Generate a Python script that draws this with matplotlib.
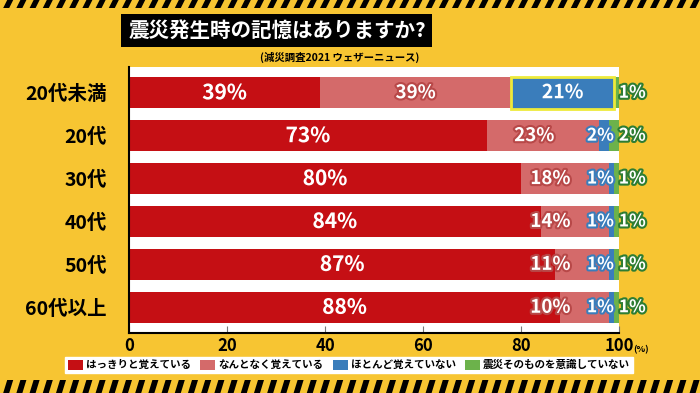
import matplotlib
matplotlib.use('Agg')
import matplotlib.pyplot as plt
import matplotlib.patheffects as pe
from matplotlib.patches import Polygon, Rectangle, Patch

plt.rcParams['font.family'] = ['Noto Sans CJK JP', 'DejaVu Sans']
plt.rcParams['font.weight'] = 'bold'

# data
groups = ['20代未満', '20代', '30代', '40代', '50代', '60代以上']
clear = [39, 73, 80, 84, 87, 88]
vague = [39, 23, 18, 14, 11, 10]
hardly = [21, 2, 1, 1, 1, 1]
none_ = [1, 2, 1, 1, 1, 1]
series_names = ['はっきりと覚えている', 'なんとなく覚えている', 'ほとんど覚えていない', '震災そのものを意識していない']
colors = ['#C50F14', '#D46A6A', '#3A7DBB', '#6CB24B']
ticks = [0, 20, 40, 60, 80, 100]

bg = '#F7C532'
fig = plt.figure(figsize=(7, 3.93), dpi=100, facecolor=bg)

# hazard stripes top and bottom
W, H = 700, 393
def stripes(y0, y1):
    x = -10
    while x < W + 10:
        pts = [(x + 4, y0), (x + 10, y0), (x + 6, y1), (x, y1)]
        fig.add_artist(Polygon([(px / W, 1 - py / H) for px, py in pts],
                               closed=True, color='black', lw=0))
        x += 13.2
stripes(0, 8)
stripes(380, 393)

ax = fig.add_axes([129 / W, 1 - 333 / H, 490 / W, 266 / H])
ax.set_facecolor('white')

y = range(len(groups))
left = [0] * len(groups)
for vals, col in zip([clear, vague, hardly, none_], colors):
    ax.barh(y, vals, left=left, height=0.72, color=col, zorder=2)
    left = [l + v for l, v in zip(left, vals)]

# yellow glow around first-row blue segment
ax.barh(0, hardly[0], left=clear[0] + vague[0], height=0.74, color=colors[2],
        edgecolor='#EEEA3A', lw=2, zorder=3)

ax.set_xlim(0, 100)
ax.set_ylim(5.6, -0.6)
ax.set_yticks(list(y))
ax.set_yticklabels(groups, fontsize=14, fontweight='bold')
ax.set_xticks(ticks)
ax.set_xticklabels([str(t) for t in ticks], fontsize=12, fontweight='bold')
ax.tick_params(axis='y', length=0, pad=16)
ax.tick_params(axis='x', direction='in', length=5, color='#777777', pad=3)
for s in ['top', 'right']:
    ax.spines[s].set_visible(False)
ax.spines['left'].set_linewidth(1.5)
ax.spines['bottom'].set_linewidth(1.5)
fig.text(633 / W, 1 - 350 / H, '(%)', fontsize=6.5, va='center', ha='left',
         fontweight='bold')

def lab(x, yy, s, fg, size=13, lw=3):
    ax.text(x, yy, s, ha='center', va='center', color='white', fontsize=size,
            fontweight='bold', zorder=5, clip_on=False,
            path_effects=[pe.withStroke(linewidth=lw, foreground=fg)])

for i in range(len(groups)):
    lab(clear[i] / 2, i, f'{clear[i]}%', colors[0], 15, 0.5)
    if vague[i] > 30:
        vx = clear[i] + vague[i] / 2
    elif vague[i] > 20:
        vx = 82.7
    else:
        vx = 86
    lab(vx, i, f'{vague[i]}%', '#B84848', 13.5, 3)
    if hardly[i] > 10:
        lab(clear[i] + vague[i] + hardly[i] / 2, i, f'{hardly[i]}%', colors[2], 14, 3)
    else:
        lab(96.2, i, f'{hardly[i]}%', colors[2], 12.5, 3)
    lab(102.7, i, f'{none_[i]}%', '#2E7D32', 12.5, 3)

# title
fig.add_artist(Rectangle((121 / W, 1 - 47 / H), 311 / W, 33 / H,
                         transform=fig.transFigure, color='black', lw=0))
fig.text(277 / W, 1 - 31 / H, '震災発生時の記憶はありますか?', color='white',
         fontsize=14.8, fontweight='bold', ha='center', va='center')
fig.text(340 / W, 1 - 57 / H, '(減災調査2021 ウェザーニュース)', color='black',
         fontsize=7.5, fontweight='bold', ha='center', va='center')

handles = [Patch(facecolor=c, edgecolor='none') for c in colors]
leg = fig.legend(handles, series_names, loc='center', ncol=4,
                 bbox_to_anchor=(349 / W, 1 - 365 / H), frameon=True,
                 fancybox=False, framealpha=1, edgecolor='white',
                 prop={'size': 7.6, 'weight': 'bold'}, handlelength=1.4,
                 handleheight=1.1, handletextpad=0.3, columnspacing=0.9,
                 borderpad=0.3)
leg.get_frame().set_facecolor('white')

fig.savefig('out.png', dpi=100, facecolor=bg)
